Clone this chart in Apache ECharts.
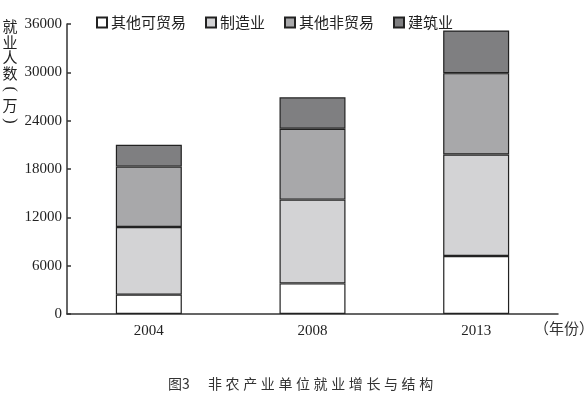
<!DOCTYPE html>
<html>
<head>
<meta charset="utf-8">
<script src="https://cdn.jsdelivr.net/npm/echarts@6/dist/echarts.min.js"></script>
<style>
html,body{margin:0;padding:0;background:#fff;}
#chart{width:588px;height:394px;}
</style>
</head>
<body>
<div id="chart"></div>
<script>
const categories = ['2004', '2008', '2013'];
const otherTradable = [2400, 3800, 7200];
const manufacturing = [8400, 10400, 12600];
const otherNonTradable = [7500, 8800, 10100];
const construction = [2700, 3900, 5300];
const seriesNames = ['其他可贸易', '制造业', '其他非贸易', '建筑业'];
const yTicks = [0, 6000, 12000, 18000, 24000, 30000, 36000];
const yAxisName = ['就', '业', '人', '数', '(', '万', ')'];
const xAxisUnit = '（年份）';
const captionLabel = '图3';
const captionText = '非农产业单位就业增长与结构';

const colors = ['#ffffff', '#d3d3d5', '#a8a8aa', '#7f7f81'];
const values = [otherTradable, manufacturing, otherNonTradable, construction];
const serif = '"Liberation Serif", "DejaVu Serif", serif';
const cjk = '"Noto Sans CJK SC", sans-serif';

const nameGraphics = yAxisName.map((ch, i) => {
  const isParen = ch === '(' || ch === ')';
  return {
    type: 'text',
    x: 10, y: 26 + i * 15.8,
    rotation: isParen ? -Math.PI / 2 : 0,
    style: { text: ch, font: (isParen ? '16px ' + serif : '15px ' + cjk), fill: '#222', align: 'center', verticalAlign: 'middle' }
  };
});
const captionGraphics = [{ type: 'text', left: 168, top: 377, style: { text: captionLabel, font: '14px ' + cjk, fill: '#333' } }]
  .concat(captionText.split('').map((ch, i) => ({
    type: 'text', left: 208 + i * 17.6, top: 377,
    style: { text: ch, font: '14px ' + cjk, fill: '#333' }
  })));

const chart = echarts.init(document.getElementById('chart'));
chart.setOption({
  animation: false,
  backgroundColor: '#fff',
  grid: { left: 67, right: 30, top: 24, bottom: 80, containLabel: false, outerBoundsMode: 'none' },
  legend: {
    top: 10, left: 91,
    icon: 'rect',
    itemWidth: 10, itemHeight: 10, itemGap: 19,
    textStyle: { fontFamily: cjk, fontSize: 15, color: '#222', padding: [0, 0, 0, -1] },
    data: seriesNames
  },
  xAxis: {
    type: 'category',
    data: categories,
    boundaryGap: true,
    axisLine: { lineStyle: { color: '#333', width: 1.5 } },
    axisTick: { inside: true, length: 5, alignWithLabel: false, lineStyle: { color: '#333', width: 1.5 } },
    axisLabel: { fontFamily: serif, fontSize: 15, color: '#222', margin: 10 }
  },
  yAxis: {
    type: 'value',
    min: 0, max: 36000, interval: 6000,
    axisLine: { show: true, lineStyle: { color: '#333', width: 1.5 } },
    axisTick: { show: true, inside: true, length: 4, lineStyle: { color: '#333', width: 1.5 } },
    axisLabel: { fontFamily: serif, fontSize: 15, color: '#222', margin: 5,
      formatter: v => yTicks.includes(v) ? String(v) : '' },
    splitLine: { show: false }
  },
  series: seriesNames.map((name, i) => ({
    name: name,
    type: 'bar',
    stack: 'total',
    barWidth: 66,
    data: values[i],
    itemStyle: { color: colors[i], borderColor: '#222', borderWidth: 1.2 }
  })),
  graphic: nameGraphics.concat(captionGraphics, [
    { type: 'text', left: 534, top: 321, style: { text: xAxisUnit, font: '15px ' + cjk, fill: '#333' } }
  ])
});
</script>
</body>
</html>
